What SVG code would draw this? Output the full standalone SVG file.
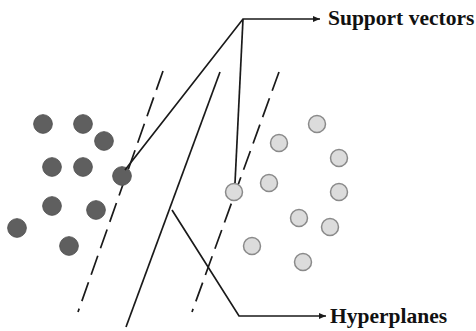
<svg xmlns="http://www.w3.org/2000/svg" width="476" height="331" viewBox="0 0 476 331">
<style>
.dark{fill:#5f5f5f;stroke:#555;stroke-width:1}
.light{fill:#dcdcdc;stroke:#8a8a8a;stroke-width:1.5}
.ln{stroke:#1a1a1a;stroke-width:1.7;fill:none}
.dash{stroke:#1a1a1a;stroke-width:1.7;fill:none;stroke-dasharray:20 8}
.lbl{font-family:"Liberation Serif","Times New Roman",serif;font-weight:bold;font-size:21.5px;fill:#111}
</style>
<defs>
<marker id="ah" markerWidth="8" markerHeight="8" refX="7" refY="4" orient="auto" markerUnits="userSpaceOnUse">
<path d="M0,1 L7,4 L0,7 Z" fill="#1a1a1a"/>
</marker>
</defs>
<g id="hyperplanes-lines">
<line class="dash" x1="163" y1="71" x2="78" y2="312"/>
<line class="ln" x1="220" y1="72" x2="126" y2="327"/>
<line class="dash" x1="279" y1="72" x2="192" y2="312"/>
</g>
<g id="dark-points">
<circle class="dark" cx="43" cy="124" r="9.3"/>
<circle class="dark" cx="83" cy="124" r="9.3"/>
<circle class="dark" cx="104" cy="141" r="9.3"/>
<circle class="dark" cx="52" cy="167" r="9.3"/>
<circle class="dark" cx="83" cy="167" r="9.3"/>
<circle class="dark" cx="122" cy="176" r="9.3"/>
<circle class="dark" cx="52" cy="206" r="9.3"/>
<circle class="dark" cx="96" cy="210" r="9.3"/>
<circle class="dark" cx="17" cy="228" r="9.3"/>
<circle class="dark" cx="69" cy="246" r="9.3"/>
</g>
<g id="light-points">
<circle class="light" cx="317" cy="124" r="8.5"/>
<circle class="light" cx="279" cy="143" r="8.5"/>
<circle class="light" cx="339" cy="158" r="8.5"/>
<circle class="light" cx="269" cy="183" r="8.5"/>
<circle class="light" cx="234" cy="192" r="8.5"/>
<circle class="light" cx="339" cy="192" r="8.5"/>
<circle class="light" cx="299" cy="218" r="8.5"/>
<circle class="light" cx="330" cy="227" r="8.5"/>
<circle class="light" cx="252" cy="246" r="8.5"/>
<circle class="light" cx="303" cy="262" r="8.5"/>
</g>
<g id="connectors">
<polyline class="ln" points="125,170 243,19 320,19" marker-end="url(#ah)"/>
<line class="ln" x1="243" y1="19" x2="235" y2="183"/>
<polyline class="ln" points="172,210 239,316 326,316" marker-end="url(#ah)"/>
</g>
<g id="label-support">
<text class="lbl" x="328" y="25">Support vectors</text>
</g>
<g id="label-hyperplanes">
<text class="lbl" x="330" y="323">Hyperplanes</text>
</g>
</svg>
